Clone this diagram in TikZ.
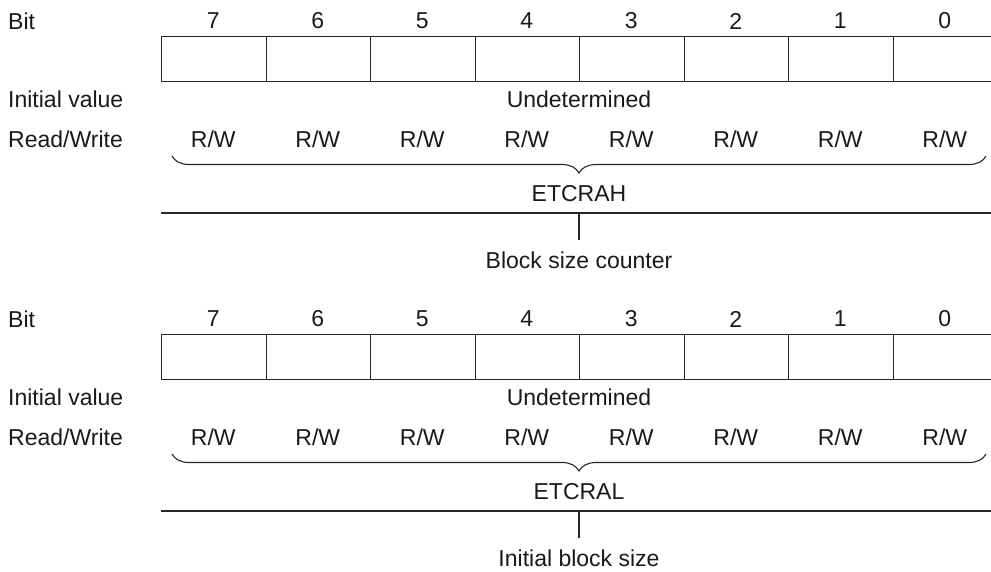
\documentclass[tikz,border=0pt]{standalone}
\usepackage{fontspec}
\setmainfont{Liberation Sans}
\usetikzlibrary{positioning,decorations.pathreplacing}

\begin{document}
\begin{tikzpicture}[
  x=1pt, y=-1pt,
  txt/.style={font=\fontsize{23}{27}\selectfont, inner sep=0pt, text=black!90},
  lead/.style={txt, anchor=west},
  cell/.style={draw=black!85, line width=1.1pt, minimum width=104.5pt,
    minimum height=45pt, inner sep=0pt, anchor=north west},
  ubrace/.style={decorate, decoration={brace, mirror, amplitude=17pt},
    line width=1.1pt, draw=black!85},
  rule/.style={line width=1.1pt, draw=black!85}
]
\useasboundingbox (0,0) rectangle (991,571);
\foreach \reg/\oy/\regname/\field in
  {h/0/ETCRAH/Block size counter, l/298/ETCRAL/Initial block size} {
  \begin{scope}[yshift=-\oy pt]
    % row labels
    \node[lead] (bit\reg)  at (8,21)  {Bit};
    \node[lead] (init\reg) at (8,99)  {Initial value};
    \node[lead] (rw\reg)   at (8,139) {Read/Write};
    % bit cells
    \foreach \b [count=\i from 0] in {7,...,0} {
      \node[cell] (cell\reg\b) at (161+104.5*\i,36) {};
      \node[txt] (num\reg\b) at (213.25+104.5*\i,21) {\b};
      \node[txt] (acc\reg\b) at (213.25+104.5*\i,139) {R/W};
    }
    \node[txt] (undet\reg) at (579,99) {Undetermined};
    % brace, register name, field
    \coordinate (bl\reg) at (172,156);
    \coordinate (br\reg) at (986,156);
    \draw[ubrace] (bl\reg) -- (br\reg);
    \node[txt] (name\reg) at (579,194) {\regname};
    \coordinate (rl\reg) at (161,213);
    \coordinate (rr\reg) at (997,213);
    \draw[rule] (rl\reg) -- (rr\reg);
    \coordinate (tick\reg) at (579,213);
    \node[txt] (field\reg) at (579,260) {\field};
    \draw[rule] (tick\reg) -- ([yshift=11pt]field\reg.north);
  \end{scope}
}
\end{tikzpicture}
\end{document}
